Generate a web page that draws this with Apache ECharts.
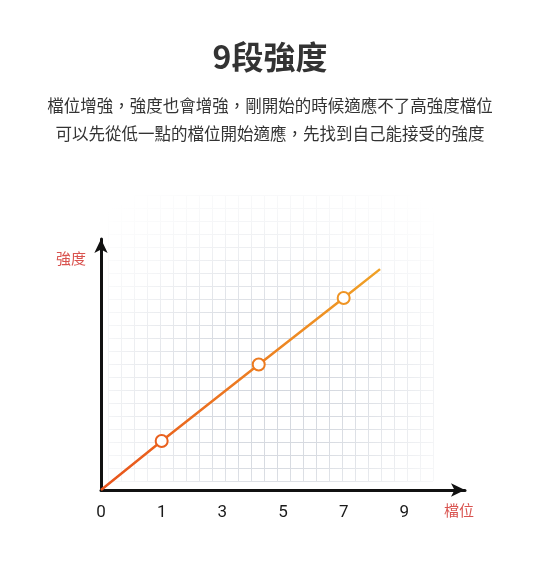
<!DOCTYPE html>
<html>
<head>
<meta charset="utf-8">
<script src="https://cdn.jsdelivr.net/npm/echarts@6/dist/echarts.min.js"></script>
<style>
  html, body { margin: 0; padding: 0; background: #fff; }
  #main { width: 540px; height: 567px; }
</style>
</head>
<body>
<div id="main"></div>
<script>
// tick labels along the 檔位 axis (evenly spaced)
var xLabels = ['0', '1', '3', '5', '7', '9'];
// line through the origin, x in label steps, y in 強度 units
var lineX = [0, 1.0, 2.6, 4.0, 4.6];
var lineY = [0, 1.95, 5.0, 7.65, 8.8];
var markerShown = [false, true, true, true, false];
var markerColors = ['#e9601e', '#ec7a20', '#ef9424'];

var titleText = '9段強度';
var subLines = [
    '檔位增強，強度也會增強，剛開始的時候適應不了高強度檔位',
    '可以先從低一點的檔位開始適應，先找到自己能接受的強度'
];

function drawChart() {
    var myChart = echarts.init(document.getElementById('main'));
    var font = '"Noto Sans CJK TC", "Noto Sans", sans-serif';

    var k = 0;
    var data = lineX.map(function (x, i) {
        var item = { value: [x, lineY[i]] };
        if (!markerShown[i]) {
            item.symbol = 'none';
        } else {
            item.itemStyle = { borderColor: markerColors[k++] };
        }
        return item;
    });

    var option = {
        backgroundColor: '#fff',
        grid: [
            { left: 101, right: 75, top: 239, bottom: 77 },
            { left: 108, width: 325, top: 195, height: 286 }
        ],
        xAxis: [
            {
                type: 'value', gridIndex: 0, min: 0, max: 6, interval: 1, z: 5,
                axisLine: { show: true, symbol: ['none', 'arrow'], symbolSize: [10, 14],
                    lineStyle: { color: '#111', width: 3 } },
                axisTick: { show: false },
                splitLine: { show: false },
                axisLabel: {
                    margin: 14, fontSize: 17, color: '#1a1a1a', fontFamily: 'Roboto, sans-serif',
                    formatter: function (v) { return xLabels[v] !== undefined ? xLabels[v] : ''; }
                }
            },
            {
                type: 'value', gridIndex: 1, min: 0, max: 25, interval: 1,
                axisLine: { show: false }, axisTick: { show: false }, axisLabel: { show: false },
                splitLine: { lineStyle: { color: '#d3d7de', width: 1 } }
            }
        ],
        yAxis: [
            {
                type: 'value', gridIndex: 0, min: 0, max: 10, z: 5,
                axisLine: { show: true, symbol: ['none', 'arrow'], symbolSize: [10, 14],
                    lineStyle: { color: '#111', width: 3 } },
                axisTick: { show: false },
                axisLabel: { show: false },
                splitLine: { show: false }
            },
            {
                type: 'value', gridIndex: 1, min: 0, max: 22, interval: 1,
                axisLine: { show: false }, axisTick: { show: false }, axisLabel: { show: false },
                splitLine: { lineStyle: { color: '#d3d7de', width: 1 } }
            }
        ],
        graphic: [
            {
                type: 'text', left: 'center', top: 41,
                style: { text: titleText, fontFamily: font, fontSize: 32, fontWeight: 'bold', fill: '#333' }
            },
            {
                type: 'text', left: 'center', top: 97,
                style: { text: subLines[0], fontFamily: font, fontSize: 16.5, fill: '#333' }
            },
            {
                type: 'text', left: 'center', top: 125,
                style: { text: subLines[1], fontFamily: font, fontSize: 16.5, fill: '#333' }
            },
            {
                type: 'rect', z: 1,
                shape: { x: 100, y: 185, width: 345, height: 305 },
                style: {
                    fill: new echarts.graphic.RadialGradient(0.5, 0.68, 0.8, [
                        { offset: 0, color: 'rgba(255,255,255,0)' },
                        { offset: 0.3, color: 'rgba(255,255,255,0.1)' },
                        { offset: 0.7, color: 'rgba(255,255,255,0.75)' },
                        { offset: 1, color: 'rgba(255,255,255,1)' }
                    ])
                }
            },
            {
                type: 'text', z: 10, left: 56, top: 251,
                style: { text: '強度', fontFamily: font, fontSize: 15, fill: '#d9534f' }
            },
            {
                type: 'text', z: 10, left: 444, top: 503,
                style: { text: '檔位', fontFamily: font, fontSize: 15, fill: '#d9534f' }
            }
        ],
        series: [
            {
                type: 'line',
                xAxisIndex: 0, yAxisIndex: 0,
                z: 6,
                symbol: 'circle',
                symbolSize: 12,
                itemStyle: { color: '#fff', borderWidth: 2 },
                lineStyle: {
                    width: 2.5,
                    color: new echarts.graphic.LinearGradient(0, 0, 1, 0, [
                        { offset: 0, color: '#e8531c' },
                        { offset: 1, color: '#f0a226' }
                    ])
                },
                data: data,
                animation: false
            }
        ]
    };

    myChart.setOption(option);
}

drawChart();
</script>
</body>
</html>
